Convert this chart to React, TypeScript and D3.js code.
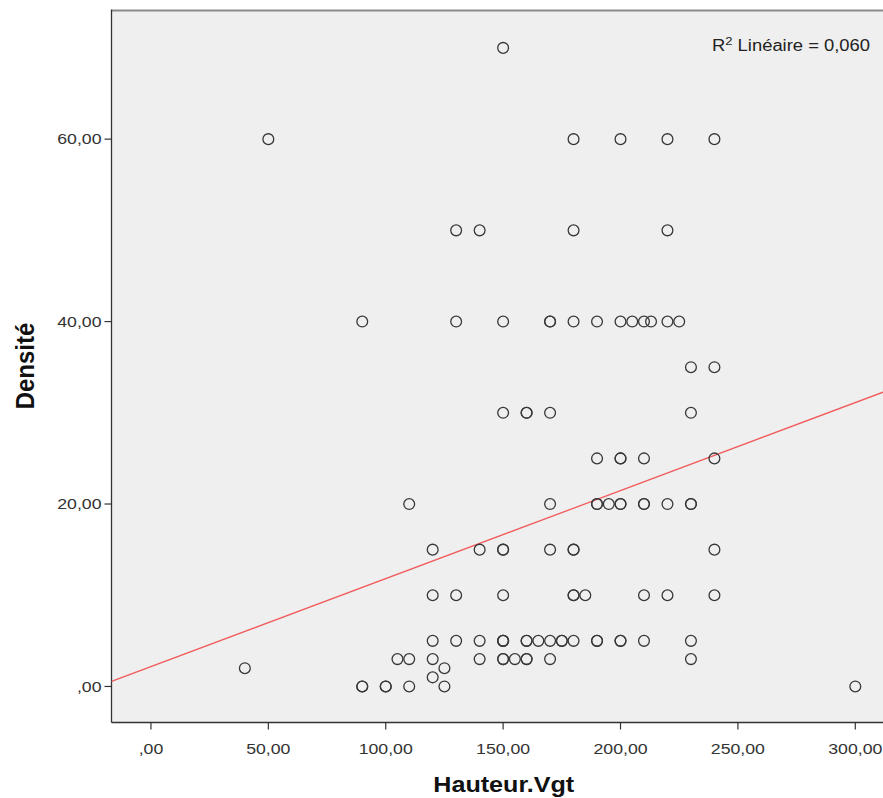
import React from "react";
import * as d3 from "d3";

// Hauteur.Vgt (x) and Densité (y) for each observation; repeated pairs overlap.
const hauteur = [
  150,
  50, 180, 200, 220, 240,
  130, 140, 180, 220,
  90, 130, 150, 170, 170, 180, 190, 200, 205, 210, 213, 220, 225,
  230, 240,
  150, 160, 160, 170, 230,
  190, 200, 200, 210, 240,
  110, 170, 190, 190, 195, 200, 200, 210, 210, 220, 230, 230,
  120, 140, 150, 150, 170, 180, 180, 240,
  120, 130, 150, 180, 180, 185, 210, 220, 240,
  120, 130, 140, 150, 150, 150, 160, 160, 165, 170, 175, 175, 180, 190, 190, 200, 200, 210, 230,
  105, 110, 120, 140, 150, 150, 155, 160, 160, 170, 230,
  40, 125,
  120,
  90, 90, 100, 100, 110, 125, 300,
];

const densite = [
  70,
  60, 60, 60, 60, 60,
  50, 50, 50, 50,
  40, 40, 40, 40, 40, 40, 40, 40, 40, 40, 40, 40, 40,
  35, 35,
  30, 30, 30, 30, 30,
  25, 25, 25, 25, 25,
  20, 20, 20, 20, 20, 20, 20, 20, 20, 20, 20, 20,
  15, 15, 15, 15, 15, 15, 15, 15,
  10, 10, 10, 10, 10, 10, 10, 10, 10,
  5, 5, 5, 5, 5, 5, 5, 5, 5, 5, 5, 5, 5, 5, 5, 5, 5, 5, 5,
  3, 3, 3, 3, 3, 3, 3, 3, 3, 3, 3,
  2, 2,
  1,
  0, 0, 0, 0, 0, 0, 0,
];

const xTicks = [0, 50, 100, 150, 200, 250, 300];
const yTicks = [0, 20, 40, 60];

// Linear fit reported by the model
const fitIntercept = 2.17;
const fitSlope = 0.0965;
const rSquared = "0,060";

const W = 883;
const H = 798;
const left = 111.5;
const right = 883;
const top = 10.5;
const bottom = 722.5;

const fmt = (v: number) => (v === 0 ? ",00" : v.toFixed(2).replace(".", ","));

const SX = 1.18;

export default function App() {
  const x = d3.scaleLinear().domain([-16.8, 311.8]).range([left, right]);
  const y = d3.scaleLinear().domain([-3.95, 74.1]).range([bottom, top]);

  const [x0, x1] = x.domain();
  const fitLine = d3
    .line<number>()
    .x((v) => x(v))
    .y((v) => y(fitIntercept + fitSlope * v));

  const tickFont = "'Liberation Sans', Arial, sans-serif";

  return (
    <svg
      width={W}
      height={H}
      style={{ position: "absolute", left: 0, top: 0, background: "#fff" }}
    >
      <defs>
        <clipPath id="plot-clip">
          <rect x={left} y={top} width={right - left} height={bottom - top} />
        </clipPath>
      </defs>

      {/* plot background */}
      <rect x={left} y={top} width={right - left} height={bottom - top} fill="#efefef" />

      {/* frame */}
      <line x1={left} x2={right} y1={top} y2={top} stroke="#8a8a8a" strokeWidth={2} />
      <line x1={left} x2={left} y1={top - 1} y2={bottom} stroke="#333" strokeWidth={1.3} />
      <line x1={left} x2={right} y1={bottom} y2={bottom} stroke="#333" strokeWidth={1.3} />

      {/* x ticks */}
      {xTicks.map((t) => (
        <g key={"x" + t}>
          <line x1={x(t)} x2={x(t)} y1={bottom} y2={bottom + 7} stroke="#333" strokeWidth={1.2} />
          <text
            transform={`translate(${x(t)},${bottom + 31}) scale(${SX},1)`}
            textAnchor="middle"
            fontFamily={tickFont}
            fontSize={15}
            fill="#333"
          >
            {fmt(t)}
          </text>
        </g>
      ))}

      {/* y ticks */}
      {yTicks.map((t) => (
        <g key={"y" + t}>
          <line x1={left - 7} x2={left} y1={y(t)} y2={y(t)} stroke="#333" strokeWidth={1.2} />
          <text
            transform={`translate(${left - 10},${y(t) + 5.3}) scale(${SX},1)`}
            textAnchor="end"
            fontFamily={tickFont}
            fontSize={15}
            fill="#333"
          >
            {fmt(t)}
          </text>
        </g>
      ))}

      <g clipPath="url(#plot-clip)">
        {/* fit line */}
        <path d={fitLine([x0, x1]) ?? ""} fill="none" stroke="#f25a5a" strokeWidth={1.3} />

        {/* observations */}
        {hauteur.map((h, i) => (
          <circle
            key={i}
            cx={x(h)}
            cy={y(densite[i])}
            r={5.4}
            fill="none"
            stroke="#383838"
            strokeWidth={1.3}
          />
        ))}
      </g>

      {/* fit annotation */}
      <text
        transform={`translate(712,50.5) scale(${SX},1)`}
        fontFamily={tickFont}
        fontSize={15.6}
        fill="#222"
      >
        R
        <tspan dy={-6} fontSize={11}>2</tspan>
        <tspan dy={6}> Linéaire = {rSquared}</tspan>
      </text>

      {/* axis titles */}
      <text
        transform={`translate(${(left + right) / 2 + 6.5},792) scale(${SX},1)`}
        textAnchor="middle"
        fontFamily={tickFont}
        fontWeight="bold"
        fontSize={21.3}
        fill="#111"
      >
        Hauteur.Vgt
      </text>
      <text
        transform={`translate(34,366) scale(1.08,1) rotate(-90)`}
        textAnchor="middle"
        fontFamily={tickFont}
        fontWeight="bold"
        fontSize={24}
        fill="#111"
      >
        Densité
      </text>
    </svg>
  );
}
